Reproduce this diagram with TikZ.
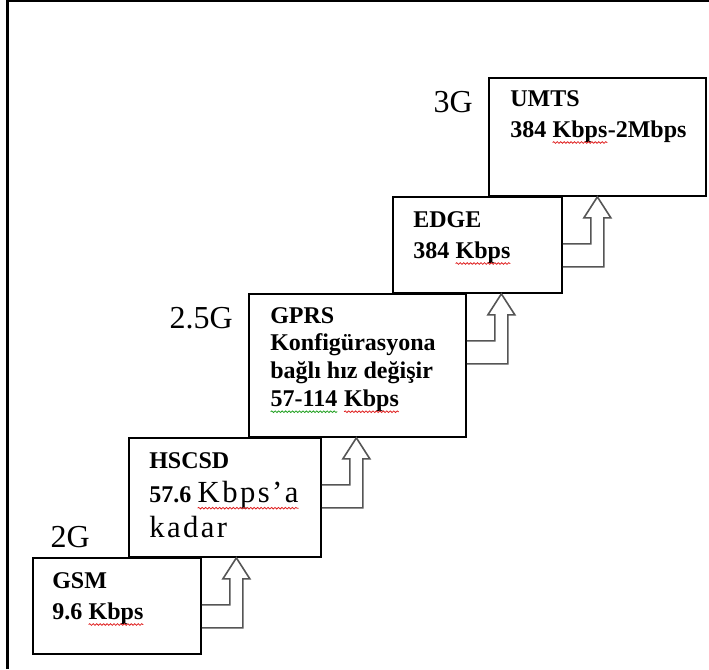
\documentclass[tikz,border=0pt]{standalone}
\usepackage{fontspec}
\setmainfont{Liberation Serif}
\newfontfamily\widefont[LetterSpace=8]{Liberation Serif}
\usepackage{tikz}
\usetikzlibrary{positioning, calc, decorations.pathmorphing}
\definecolor{spellred}{HTML}{E02020}
\definecolor{spellgreen}{HTML}{20A020}
\definecolor{arrowgray}{HTML}{555555}

% wavy spell-check line under a word
\newcommand{\spellmark}[2]{\tikz[baseline=(sw.base)]{\node[inner sep=0pt, outer sep=0pt, font={}] (sw) {#2};
  \draw[#1, line width=0.6pt, decorate, decoration={snake, amplitude=0.6pt, segment length=2.6pt}] ([yshift=-4pt]sw.base west) -- ([yshift=-4pt]sw.base east);}}

% bent-up arrow: right side of one stage to the bottom of the next
\newcommand{\stepup}[2]{%
  \draw[uparrow] ($(#1.east |- #2.south)+(0,47)$) -- ++(28,0) -- ++(0,-26) -- ++(-7,0)
    -- ++(13.5,-21) -- ++(13.5,21) -- ++(-7,0) -- ++(0,49) -- ++(-41,0);}

\begin{document}
\begin{tikzpicture}[
    x=0.75pt, y=-0.75pt,
    stage/.style={draw, fill=white, line width=1.4pt, anchor=north west, inner sep=0pt},
    info/.style={anchor=north west, align=left, inner sep=0pt, font=\bfseries\fontsize{18}{23.25}\selectfont},
    era/.style={anchor=east, inner sep=0pt, font=\fontsize{24}{28}\selectfont},
    uparrow/.style={draw=arrowgray, line width=1.2pt},
    frame/.style={line width=1.9pt}
]
\useasboundingbox (0,0) rectangle (709,669);
\draw[frame] (7.5,669) -- (7.5,1) -- (709,1);

% the five stages
\node[stage, minimum width=162.75pt, minimum height=88.5pt] (umtsbox) at (488,77) {};
\node[stage, minimum width=126.75pt, minimum height=72pt] (edgebox) at (392,196) {};
\node[stage, minimum width=162.75pt, minimum height=107.25pt] (gprsbox) at (248,293) {};
\node[stage, minimum width=144pt, minimum height=89.25pt] (hscsdbox) at (128,437) {};
\node[stage, minimum width=126pt, minimum height=72pt] (gsmbox) at (32,557) {};

\node[info] (umtstext) at ($(umtsbox.north west)+(22,13)$) {UMTS\\384 \spellmark{spellred}{Kbps}-2Mbps};
\node[info] (edgetext) at ($(edgebox.north west)+(21,15)$) {EDGE\\384 \spellmark{spellred}{Kbps}};
\node[info, font=\bfseries\fontsize{18}{20.8}\selectfont] (gprstext) at ($(gprsbox.north west)+(22,14)$)
  {GPRS\\Konfigürasyona\\bağlı hız değişir\\\spellmark{spellgreen}{57-114} \spellmark{spellred}{Kbps}};
\node[info, font=\bfseries\fontsize{18}{26}\selectfont] (hscsdtext) at ($(hscsdbox.north west)+(21,15)$)
  {HSCSD\\57.6 {\widefont\mdseries\fontsize{23}{26}\selectfont\spellmark{spellred}{Kbps’a}}\\{\widefont\mdseries\fontsize{23}{26}\selectfont kadar}};
\node[info] (gsmtext) at ($(gsmbox.north west)+(20,15)$) {GSM\\9.6 \spellmark{spellred}{Kbps}};

% generations
\node[era] (gen2) at ($(gsmbox.north west)+(58,-20)$) {2G};
\node[era] (gen25) at ($(gprsbox.north west)+(-15,25)$) {2.5G};
\node[era] (gen3) at ($(umtsbox.north west)+(-15,25)$) {3G};

% steps up
\stepup{gsmbox}{hscsdbox}
\stepup{hscsdbox}{gprsbox}
\stepup{gprsbox}{edgebox}
\stepup{edgebox}{umtsbox}
\end{tikzpicture}
\end{document}
